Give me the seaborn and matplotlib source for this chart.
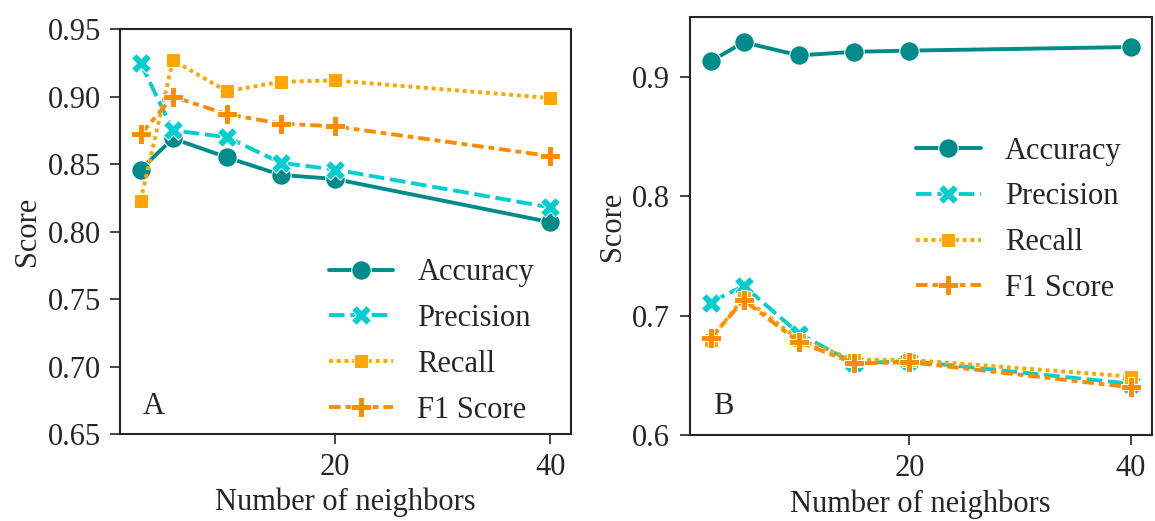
"""
Accuracy, precision, recall and F1 score of a k-nearest-neighbours
classifier against the number of neighbours, for two data sets (A, B).
"""
import pandas as pd
import seaborn as sns
import matplotlib.pyplot as plt

sns.set_style("ticks")
plt.rcParams["font.family"] = ["Liberation Serif", "DejaVu Serif"]
plt.rcParams["font.size"] = 22

# number of neighbours used
neighbors = [2, 5, 10, 15, 20, 40]
metrics = ["Accuracy", "Precision", "Recall", "F1 Score"]

# panel A scores
a_accuracy = [0.846, 0.869, 0.855, 0.842, 0.839, 0.807]
a_precision = [0.925, 0.875, 0.870, 0.851, 0.846, 0.818]
a_recall = [0.823, 0.927, 0.904, 0.911, 0.912, 0.899]
a_f1 = [0.872, 0.900, 0.887, 0.880, 0.878, 0.856]

# panel B scores
b_accuracy = [0.913, 0.929, 0.918, 0.921, 0.922, 0.925]
b_precision = [0.711, 0.725, 0.685, 0.660, 0.662, 0.643]
b_recall = [0.680, 0.715, 0.680, 0.663, 0.663, 0.649]
b_f1 = [0.681, 0.713, 0.678, 0.660, 0.661, 0.640]

colors = ["darkcyan", "darkturquoise", "orange", "darkorange"]

LW = 2.8
MS = 14


def to_long(series):
    """Stack the per-metric lists into one long table for seaborn."""
    frames = []
    for name, values in zip(metrics, series):
        frames.append(pd.DataFrame({"k": neighbors, "score": values, "metric": name}))
    return pd.concat(frames, ignore_index=True)


df_a = to_long([a_accuracy, a_precision, a_recall, a_f1])
df_b = to_long([b_accuracy, b_precision, b_recall, b_f1])

fig = plt.figure(figsize=(11.55, 5.21), dpi=100)
ax_a = fig.add_axes([0.104, 0.167, 0.390, 0.777])
ax_b = fig.add_axes([0.597, 0.165, 0.400, 0.802])

legend_kw = dict(title=None, frameon=False, handlelength=2.1,
                 handletextpad=0.8, labelspacing=0.55)


def style_legend(leg):
    # keep legend handles as heavy as the plotted lines
    for line in leg.get_lines():
        line.set_linewidth(LW)
        line.set_markersize(MS)


for ax, df in [(ax_a, df_a), (ax_b, df_b)]:
    sns.lineplot(data=df, x="k", y="score", hue="metric", style="metric",
                 markers=True, palette=colors, linewidth=LW, markersize=MS,
                 markeredgecolor="white", ax=ax)
    ax.set_xlabel("Number of neighbors")
    ax.set_ylabel("Score")
    ax.set_xticks([20, 40])
    ax.tick_params(length=7, width=1.2, pad=7)
    for spine in ax.spines.values():
        spine.set_linewidth(1.5)

ax_a.set_ylim(0.65, 0.95)
ax_a.set_yticks([0.65, 0.70, 0.75, 0.80, 0.85, 0.90, 0.95])
ax_a.set_yticklabels([f"{v:.2f}" for v in ax_a.get_yticks()])
leg = ax_a.legend(loc="lower right", bbox_to_anchor=(0.98, -0.045), **legend_kw)
style_legend(leg)
ax_a.text(0.05, 0.05, "A", transform=ax_a.transAxes)

ax_b.set_ylim(0.6, 0.95)
ax_b.set_yticks([0.6, 0.7, 0.8, 0.9])
ax_b.set_yticklabels([f"{v:.1f}" for v in ax_b.get_yticks()])
leg = ax_b.legend(loc="center right", bbox_to_anchor=(0.995, 0.515), **legend_kw)
style_legend(leg)
ax_b.text(0.05, 0.05, "B", transform=ax_b.transAxes)

plt.savefig("out.png", dpi=100)
